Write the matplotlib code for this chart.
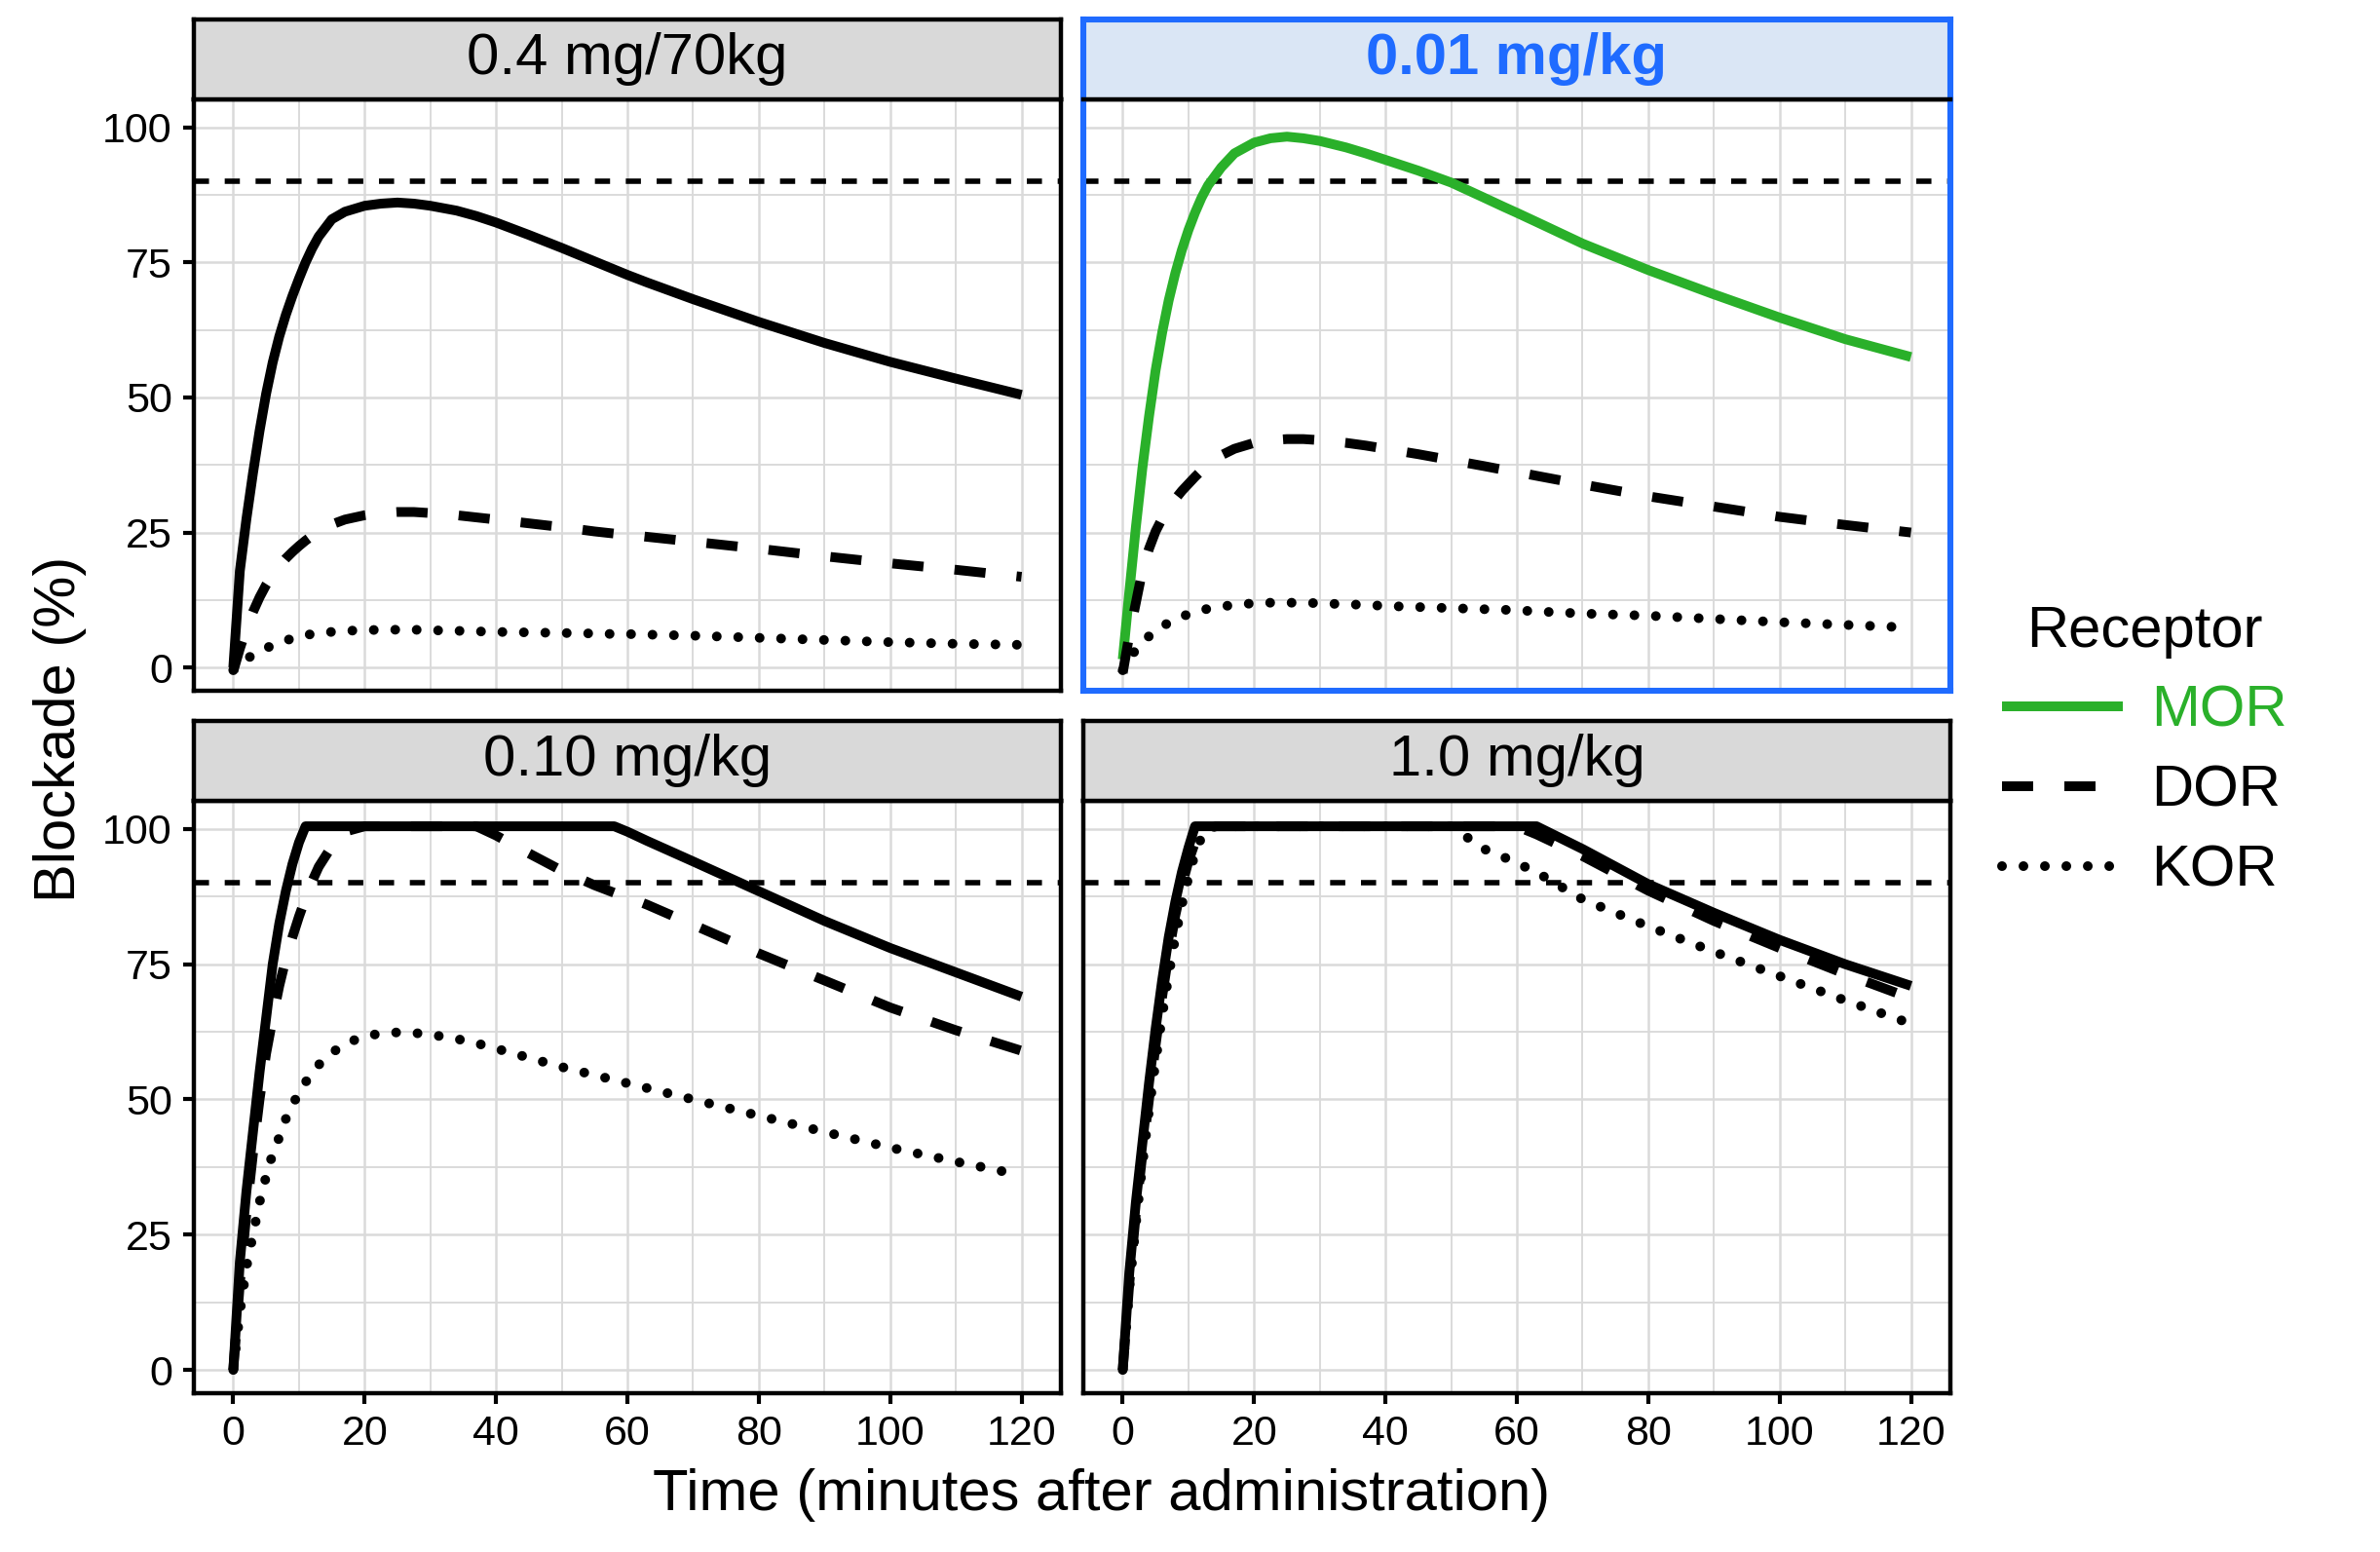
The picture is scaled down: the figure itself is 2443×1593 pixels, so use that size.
import matplotlib
matplotlib.use('Agg')
import matplotlib.pyplot as plt
from matplotlib.lines import Line2D

plt.rcParams['font.family'] = ['Liberation Sans', 'DejaVu Sans']

# time grid shared by all curves (minutes)
time_min = [0, 1, 2, 3, 4, 5, 6, 7, 8, 9, 10, 11, 12, 13, 15, 17, 20, 22.5, 25, 27.5,
            30, 34, 37, 40, 45, 50, 55, 58, 60, 63, 70, 80, 90, 100, 110, 120]

panel_titles = ['0.4 mg/70kg', '0.01 mg/kg', '0.10 mg/kg', '1.0 mg/kg']
receptors = ['MOR', 'DOR', 'KOR']

# 0.4 mg/70kg
mor_04 = [0, 17.9, 27.5, 36, 43.8, 50.7, 56.5, 61.3, 65.3, 68.8, 72, 75, 77.6, 79.8, 83,
          84.4, 85.5, 85.9, 86.1, 85.9, 85.5, 84.6, 83.6, 82.4, 80.1, 77.7, 75.2, 73.7,
          72.7, 71.3, 68.2, 64, 60.1, 56.6, 53.5, 50.5]
dor_04 = [-0.7, 3.5, 7.2, 10.3, 13, 15.3, 17.2, 18.8, 20.2, 21.4, 22.5, 23.5, 24.4, 25.2,
          26.5, 27.4, 28.2, 28.6, 28.8, 28.8, 28.6, 28.2, 27.8, 27.4, 26.7, 26, 25.2,
          24.8, 24.6, 24.2, 23.3, 22, 20.6, 19.3, 18.1, 16.8]
kor_04 = [-0.5, 0.8, 1.6, 2.3, 3.0, 3.6, 4.1, 4.6, 5.0, 5.4, 5.8, 6.0, 6.2, 6.4, 6.6, 6.8,
          6.9, 7.0, 7.0, 7.0, 6.9, 6.8, 6.7, 6.6, 6.5, 6.4, 6.3, 6.2, 6.2, 6.1, 5.9, 5.5,
          5.1, 4.7, 4.4, 4.2]

# 0.01 mg/kg
mor_001 = [1.5, 14, 26, 37, 46.5, 55, 62, 68, 73, 77.3, 81, 84.2, 87, 89.3, 92.6, 95.2,
           97.2, 98, 98.3, 98, 97.5, 96.3, 95.2, 94, 92, 89.8, 87, 85.3, 84.2, 82.5,
           78.5, 73.6, 69.1, 64.8, 60.8, 57.5]
dor_001 = [-1, 6, 12, 18, 22, 25.2, 27.6, 29.5, 31.2, 32.7, 34, 35.3, 36.5, 37.6, 39.3,
           40.5, 41.6, 42.1, 42.3, 42.3, 42.1, 41.6, 41.1, 40.5, 39.5, 38.4, 37.3, 36.6,
           36.2, 35.5, 33.9, 31.7, 29.8, 27.9, 26.4, 25]
kor_001 = [-0.5, 1.7, 3.3, 4.6, 5.8, 6.7, 7.6, 8.3, 8.9, 9.4, 9.9, 10.3, 10.6, 10.9, 11.3,
           11.6, 11.9, 12, 12, 12, 11.9, 11.7, 11.6, 11.4, 11.2, 11, 10.8, 10.7, 10.6,
           10.4, 10, 9.6, 9, 8.4, 7.9, 7.4]

# 0.10 mg/kg
mor_010 = [0, 20, 33, 44, 55, 65, 75, 82.5, 88.5, 93.5, 97.5, 100.5, 100.5, 100.5, 100.5,
           100.5, 100.5, 100.5, 100.5, 100.5, 100.5, 100.5, 100.5, 100.5, 100.5, 100.5,
           100.5, 100.5, 99.5, 97.8, 94, 88.5, 83, 78, 73.5, 69]
dor_010 = [0, 16, 29, 40, 50, 58.5, 65, 71, 76, 80, 83.8, 87.2, 90.3, 93, 96.8, 99.5,
           100.5, 100.5, 100.5, 100.5, 100.5, 100.5, 100.5, 98.8, 95.5, 92.3, 89.6, 88.2,
           87.4, 86, 82.3, 77, 72, 67, 62.8, 59]
kor_010 = [0, 10.6, 19, 25, 31, 35.8, 40, 43, 46.4, 49, 51.2, 53.2, 54.8, 56.4, 58.6,
           60.3, 61.7, 62.2, 62.4, 62.3, 62, 61.2, 60.4, 59.4, 57.7, 56, 54.5, 53.6, 53,
           52.1, 50, 47, 44, 41.1, 38.5, 36]

# 1.0 mg/kg
mor_10 = [0, 18, 31, 42, 53, 63, 72, 80, 86.5, 92, 96.5, 100.5, 100.5, 100.5, 100.5, 100.5,
          100.5, 100.5, 100.5, 100.5, 100.5, 100.5, 100.5, 100.5, 100.5, 100.5, 100.5,
          100.5, 100.5, 100.5, 96.3, 89.8, 84.5, 79.5, 75, 71]
dor_10 = [0, 16, 29, 40, 50, 60, 69, 77, 84, 89.5, 94, 97.5, 99.8, 100.5, 100.5, 100.5,
          100.5, 100.5, 100.5, 100.5, 100.5, 100.5, 100.5, 100.5, 100.5, 100.5, 100.5,
          100.5, 100.5, 99, 95, 88.6, 83, 78, 73.2, 68.7]
kor_10 = [0, 15, 27, 38, 48, 57, 65.5, 73, 80, 86, 91, 95.5, 98.5, 100.3, 100.5, 100.5,
          100.5, 100.5, 100.5, 100.5, 100.5, 100.5, 100.5, 100.5, 100.5, 100.5, 96.3, 94.8,
          93.7, 92, 87, 82, 77.3, 72.8, 68.3, 64]

panel_series = [
    [mor_04, dor_04, kor_04],
    [mor_001, dor_001, kor_001],
    [mor_010, dor_010, kor_010],
    [mor_10, dor_10, kor_10],
]

threshold = 90
highlight = 1  # the 0.01 mg/kg facet

GREEN = '#2AB02A'
BLUE = '#1F6BFF'
STRIP_GREY = '#D9D9D9'
STRIP_BLUE = '#DAE6F5'
GRID = '#DADADA'

LW = 3.6  # pt
styles = {
    'MOR': dict(linestyle='-', solid_capstyle='butt', solid_joinstyle='round'),
    'DOR': dict(linestyle=(0, (3.2, 3.2)), dash_capstyle='butt'),
    'KOR': dict(linestyle=(0, (0.001, 2.2)), dash_capstyle='round'),
}

W, H = 2443, 1593
fig = plt.figure(figsize=(W / 200, H / 200), dpi=200)

# panel boxes in pixels: (left, right) columns and (strip_top, panel_top, panel_bottom) rows
cols = [(199, 1089), (1112, 2002)]
rows = [(20, 102, 709), (740, 822, 1430)]

for i, series in enumerate(panel_series):
    r, c = divmod(i, 2)
    x0, x1 = cols[c]
    st, pt, pb = rows[r]
    ax = fig.add_axes([x0 / W, 1 - pb / H, (x1 - x0) / W, (pb - pt) / H])
    sax = fig.add_axes([x0 / W, 1 - pt / H, (x1 - x0) / W, (pt - st) / H])

    ax.set_xlim(-6, 126)
    ax.set_ylim(-4.3, 105.2)
    ax.set_xticks(range(0, 121, 20))
    ax.set_xticks(range(10, 121, 20), minor=True)
    ax.set_yticks([0, 25, 50, 75, 100])
    ax.set_yticks([12.5, 37.5, 62.5, 87.5], minor=True)
    ax.grid(True, which='major', color=GRID, lw=0.9)
    ax.grid(True, which='minor', color=GRID, lw=0.7)
    ax.set_axisbelow(True)
    ax.tick_params(which='major', direction='out', length=4, width=1.5,
                   labelsize=15.5, pad=4, color='black')
    ax.tick_params(which='minor', length=0)
    if r == 0:
        ax.tick_params(axis='x', which='major', length=0, labelbottom=False)
    if c == 1:
        ax.tick_params(axis='y', which='major', length=0, labelleft=False)

    ax.axhline(threshold, color='black', lw=2.0, linestyle=(0, (2.8, 2.9)), zorder=2)

    for name, vals in zip(receptors, series):
        color = GREEN if (i == highlight and name == 'MOR') else 'black'
        ax.plot(time_min, vals, color=color, lw=LW, zorder=3, **styles[name])

    for sp in ax.spines.values():
        sp.set_linewidth(1.6)
        sp.set_color('black')

    sax.set_xticks([])
    sax.set_yticks([])
    for sp in sax.spines.values():
        sp.set_linewidth(1.6)
        sp.set_color('black')

    if i == highlight:
        sax.set_facecolor(STRIP_BLUE)
        sax.text(0.5, 0.5, panel_titles[i], ha='center', va='center', fontsize=21.5,
                 fontweight='bold', color=BLUE, transform=sax.transAxes)
        for side in ['left', 'right', 'top']:
            sax.spines[side].set_color(BLUE)
            sax.spines[side].set_linewidth(2.2)
        for side in ['left', 'right', 'bottom']:
            ax.spines[side].set_color(BLUE)
            ax.spines[side].set_linewidth(2.2)
        sax.set_zorder(5)
    else:
        sax.set_facecolor(STRIP_GREY)
        sax.text(0.5, 0.5, panel_titles[i], ha='center', va='center', fontsize=21.5,
                 color='black', transform=sax.transAxes)

fig.text(62 / W, 1 - 748 / H, 'Blockade (%)', rotation=90, ha='center', va='center',
         fontsize=21.5)
fig.text(1131 / W, 1 - 1535 / H, 'Time (minutes after administration)', ha='center',
         va='center', fontsize=21.5)

handles = [Line2D([], [], color=GREEN, lw=LW, **styles['MOR']),
           Line2D([], [], color='black', lw=LW, **styles['DOR']),
           Line2D([], [], color='black', lw=LW, **styles['KOR'])]
leg = fig.legend(handles, receptors, title='Receptor', loc='upper left',
                 bbox_to_anchor=(2055 / W, 1 - 621 / H), frameon=False, fontsize=21.5,
                 title_fontsize=21.5, handlelength=2.08, handletextpad=0.49,
                 labelspacing=0.45, borderpad=0, borderaxespad=0)
leg.get_texts()[0].set_color(GREEN)

fig.savefig('out.png', dpi=200)
